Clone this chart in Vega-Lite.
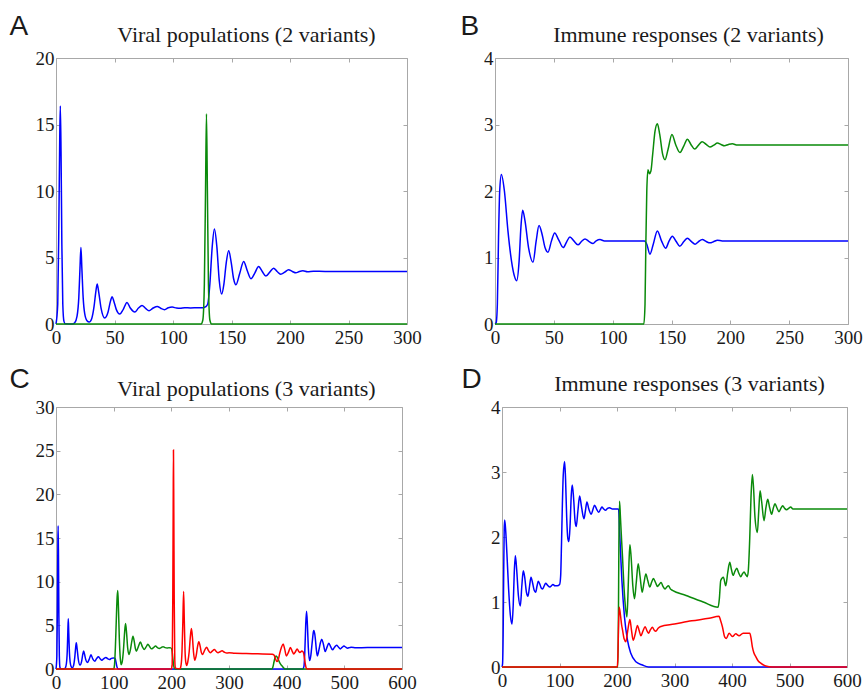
{
"$schema": "https://vega.github.io/schema/vega-lite/v6.json",
"background": "white",
"padding": {"left": 9, "top": 12, "right": 0, "bottom": 0},
"datasets": {
"A_v1": [{"t":0,"v":0},{"t":1.5,"v":1.5},{"t":2.5,"v":8},{"t":3.2,"v":14},{"t":3.7,"v":16.4},{"t":4.3,"v":13},{"t":5,"v":6},{"t":5.8,"v":1.5},{"t":6.8,"v":0.2},{"t":8,"v":0.02},{"t":14,"v":0},{"t":16,"v":0.1},{"t":18,"v":0.6},{"t":19.5,"v":2},{"t":20.5,"v":4.2},{"t":21.3,"v":5.75},{"t":22.1,"v":4.2},{"t":23.2,"v":2},{"t":24.5,"v":0.8},{"t":26.5,"v":0.25},{"t":28.4,"v":0.15},{"t":30.5,"v":0.4},{"t":32.5,"v":1.3},{"t":34,"v":2.4},{"t":35.2,"v":3.0},{"t":36.5,"v":2.4},{"t":38.5,"v":1.2},{"t":41.7,"v":0.45},{"t":44.5,"v":0.9},{"t":46.5,"v":1.7},{"t":48,"v":2.05},{"t":49.5,"v":1.7},{"t":51.5,"v":1.1},{"t":54.5,"v":0.75},{"t":57.5,"v":1.1},{"t":60.7,"v":1.62},{"t":63.5,"v":1.2},{"t":67.3,"v":0.9},{"t":70.5,"v":1.2},{"t":73.5,"v":1.4},{"t":76.5,"v":1.18},{"t":79.5,"v":1.0},{"t":83,"v":1.2},{"t":86.6,"v":1.32},{"t":89.5,"v":1.18},{"t":92.8,"v":1.08},{"t":96,"v":1.22},{"t":99.3,"v":1.27},{"t":103,"v":1.2},{"t":106,"v":1.18},{"t":110,"v":1.23},{"t":115,"v":1.21},{"t":120,"v":1.22},{"t":126,"v":1.23},{"t":128,"v":1.3},{"t":129.7,"v":1.5},{"t":131.5,"v":3.0},{"t":133.5,"v":5.8},{"t":135.4,"v":7.15},{"t":137.5,"v":5.8},{"t":139.5,"v":3.3},{"t":141.6,"v":2.25},{"t":143.5,"v":3.0},{"t":145.5,"v":4.6},{"t":147.6,"v":5.5},{"t":149.8,"v":4.6},{"t":151.8,"v":3.4},{"t":153.8,"v":2.95},{"t":157,"v":3.8},{"t":160.4,"v":4.7},{"t":163.5,"v":4.0},{"t":166.6,"v":3.4},{"t":170,"v":3.85},{"t":173.2,"v":4.33},{"t":176.3,"v":3.95},{"t":179.4,"v":3.6},{"t":182.7,"v":3.9},{"t":186,"v":4.2},{"t":189,"v":3.95},{"t":192,"v":3.75},{"t":195.5,"v":3.9},{"t":198.7,"v":4.08},{"t":202,"v":3.95},{"t":205,"v":3.85},{"t":208,"v":3.95},{"t":211,"v":4.0},{"t":215,"v":3.93},{"t":220,"v":3.97},{"t":230,"v":3.95},{"t":250,"v":3.95},{"t":300,"v":3.95}],
"A_v2": [{"t":0,"v":0},{"t":124,"v":0},{"t":125.5,"v":0.3},{"t":126.8,"v":3},{"t":127.8,"v":10},{"t":128.6,"v":15.8},{"t":129.4,"v":10},{"t":130.3,"v":3},{"t":131.5,"v":0.3},{"t":133,"v":0},{"t":300,"v":0}],
"B_v1": [{"t":0,"v":0},{"t":1,"v":0.02},{"t":2,"v":0.3},{"t":3,"v":1.3},{"t":4,"v":2.0},{"t":5.4,"v":2.25},{"t":8,"v":2.0},{"t":11,"v":1.4},{"t":14,"v":0.95},{"t":16.5,"v":0.72},{"t":18.4,"v":0.65},{"t":20.5,"v":0.95},{"t":22,"v":1.45},{"t":23.5,"v":1.71},{"t":25.5,"v":1.55},{"t":28.5,"v":1.15},{"t":32.3,"v":0.93},{"t":35,"v":1.25},{"t":37.4,"v":1.48},{"t":40,"v":1.35},{"t":42.5,"v":1.15},{"t":45,"v":1.08},{"t":48,"v":1.25},{"t":50.7,"v":1.37},{"t":54,"v":1.27},{"t":58,"v":1.15},{"t":61,"v":1.24},{"t":63.7,"v":1.31},{"t":67,"v":1.25},{"t":70.5,"v":1.19},{"t":73.5,"v":1.24},{"t":76.5,"v":1.28},{"t":80,"v":1.24},{"t":83.3,"v":1.21},{"t":86,"v":1.25},{"t":89.2,"v":1.27},{"t":93,"v":1.25},{"t":100,"v":1.25},{"t":127,"v":1.25},{"t":129,"v":1.2},{"t":131.7,"v":1.05},{"t":134.5,"v":1.2},{"t":138,"v":1.4},{"t":141.5,"v":1.25},{"t":145,"v":1.14},{"t":148,"v":1.25},{"t":150.7,"v":1.32},{"t":154,"v":1.24},{"t":157,"v":1.17},{"t":160.5,"v":1.24},{"t":163.5,"v":1.29},{"t":167,"v":1.24},{"t":170,"v":1.2},{"t":173,"v":1.24},{"t":176.2,"v":1.27},{"t":179.5,"v":1.24},{"t":182.7,"v":1.22},{"t":186,"v":1.24},{"t":189,"v":1.26},{"t":193,"v":1.25},{"t":200,"v":1.25},{"t":300,"v":1.25}],
"B_v2": [{"t":0,"v":0},{"t":126.5,"v":0},{"t":127.5,"v":0.3},{"t":128.2,"v":1.2},{"t":129,"v":2.0},{"t":130,"v":2.32},{"t":131.3,"v":2.26},{"t":132.5,"v":2.3},{"t":134,"v":2.55},{"t":136,"v":2.9},{"t":138,"v":3.01},{"t":140,"v":2.85},{"t":142.5,"v":2.55},{"t":144.5,"v":2.47},{"t":147,"v":2.62},{"t":150.4,"v":2.85},{"t":153.5,"v":2.7},{"t":157.2,"v":2.58},{"t":160.5,"v":2.68},{"t":163.5,"v":2.78},{"t":166.5,"v":2.7},{"t":169.7,"v":2.63},{"t":173,"v":2.69},{"t":176,"v":2.74},{"t":179.5,"v":2.7},{"t":182.7,"v":2.66},{"t":186,"v":2.69},{"t":189,"v":2.72},{"t":192,"v":2.7},{"t":195,"v":2.68},{"t":198.5,"v":2.7},{"t":201.7,"v":2.71},{"t":206,"v":2.69},{"t":215,"v":2.69},{"t":300,"v":2.69}],
"C_v1": [{"t":0,"v":0},{"t":1.5,"v":1.5},{"t":2.5,"v":8},{"t":3.2,"v":14},{"t":3.7,"v":16.4},{"t":4.3,"v":13},{"t":5,"v":6},{"t":5.8,"v":1.5},{"t":6.8,"v":0.2},{"t":8,"v":0.02},{"t":14,"v":0},{"t":16,"v":0.1},{"t":18,"v":0.6},{"t":19.5,"v":2},{"t":20.5,"v":4.2},{"t":21.3,"v":5.75},{"t":22.1,"v":4.2},{"t":23.2,"v":2},{"t":24.5,"v":0.8},{"t":26.5,"v":0.25},{"t":28.4,"v":0.15},{"t":30.5,"v":0.4},{"t":32.5,"v":1.3},{"t":34,"v":2.4},{"t":35.2,"v":3.0},{"t":36.5,"v":2.4},{"t":38.5,"v":1.2},{"t":41.7,"v":0.45},{"t":44.5,"v":0.9},{"t":46.5,"v":1.7},{"t":48,"v":2.05},{"t":49.5,"v":1.7},{"t":51.5,"v":1.1},{"t":54.5,"v":0.75},{"t":57.5,"v":1.1},{"t":60.7,"v":1.62},{"t":63.5,"v":1.2},{"t":67.3,"v":0.9},{"t":70.5,"v":1.2},{"t":73.5,"v":1.4},{"t":76.5,"v":1.18},{"t":79.5,"v":1.0},{"t":83,"v":1.2},{"t":86.6,"v":1.32},{"t":89.5,"v":1.18},{"t":92.8,"v":1.08},{"t":96,"v":1.22},{"t":99.3,"v":1.27},{"t":101,"v":1.25},{"t":102.5,"v":1.2},{"t":104,"v":0.8},{"t":105.5,"v":0.3},{"t":107,"v":0.05},{"t":109,"v":0},{"t":428,"v":0},{"t":430,"v":0.3},{"t":431.5,"v":2},{"t":433,"v":5},{"t":434.5,"v":6.6},{"t":436,"v":5},{"t":437.5,"v":2.5},{"t":439.8,"v":0.96},{"t":442,"v":1.6},{"t":444.5,"v":3.2},{"t":446.5,"v":4.3},{"t":447.4,"v":4.4},{"t":449.5,"v":3.6},{"t":451.5,"v":2.2},{"t":453.2,"v":1.5},{"t":456,"v":2.2},{"t":458.5,"v":3.0},{"t":460.8,"v":3.4},{"t":463.5,"v":2.9},{"t":466.7,"v":2.0},{"t":470,"v":2.5},{"t":473,"v":2.95},{"t":476,"v":2.6},{"t":479.5,"v":2.2},{"t":483,"v":2.5},{"t":486.5,"v":2.73},{"t":490,"v":2.5},{"t":493,"v":2.3},{"t":496,"v":2.47},{"t":499.4,"v":2.62},{"t":502.5,"v":2.5},{"t":505.8,"v":2.39},{"t":509,"v":2.45},{"t":512,"v":2.5},{"t":520,"v":2.44},{"t":540,"v":2.45},{"t":600,"v":2.45}],
"C_v2": [{"t":0,"v":0},{"t":100,"v":0},{"t":101.5,"v":0.5},{"t":103,"v":2.5},{"t":104.5,"v":5.5},{"t":106,"v":8.2},{"t":107.1,"v":8.98},{"t":108.3,"v":7},{"t":109.8,"v":3.5},{"t":111.5,"v":1.2},{"t":113,"v":0.5},{"t":115,"v":0.9},{"t":117,"v":2.2},{"t":119,"v":4.2},{"t":120.6,"v":5.2},{"t":122.3,"v":4.2},{"t":124.3,"v":2.4},{"t":126.5,"v":1.66},{"t":129,"v":2.2},{"t":131.5,"v":3.2},{"t":133.5,"v":3.74},{"t":135.8,"v":3.1},{"t":137.8,"v":2.3},{"t":139.3,"v":2.04},{"t":142.5,"v":2.5},{"t":146.4,"v":3.08},{"t":149.5,"v":2.6},{"t":152.8,"v":2.24},{"t":156,"v":2.5},{"t":159.3,"v":2.82},{"t":162.5,"v":2.55},{"t":165.7,"v":2.31},{"t":169,"v":2.45},{"t":172.7,"v":2.62},{"t":176,"v":2.45},{"t":179.2,"v":2.35},{"t":182.5,"v":2.45},{"t":185.6,"v":2.55},{"t":189,"v":2.45},{"t":192.5,"v":2.4},{"t":196,"v":2.44},{"t":199,"v":2.42},{"t":201,"v":2.2},{"t":202.5,"v":1.3},{"t":204,"v":0.4},{"t":205.5,"v":0.05},{"t":207,"v":0},{"t":374,"v":0},{"t":376,"v":0.2},{"t":378,"v":0.8},{"t":380,"v":1.35},{"t":381.8,"v":1.5},{"t":384,"v":1.3},{"t":387,"v":0.85},{"t":390,"v":0.5},{"t":393,"v":0.27},{"t":396,"v":0.05},{"t":398,"v":0},{"t":600,"v":0}],
"C_v3": [{"t":0,"v":0},{"t":200,"v":0},{"t":201.5,"v":0.5},{"t":202.5,"v":8},{"t":203.2,"v":18},{"t":203.7,"v":25.07},{"t":204.3,"v":18},{"t":205,"v":8},{"t":206,"v":1},{"t":207,"v":0.1},{"t":215,"v":0.02},{"t":217,"v":0.5},{"t":218.5,"v":2},{"t":220,"v":5.5},{"t":221.3,"v":8.87},{"t":222.5,"v":5.5},{"t":223.8,"v":2},{"t":225,"v":0.8},{"t":226.6,"v":0.4},{"t":228.5,"v":0.8},{"t":231,"v":2},{"t":233,"v":3.7},{"t":234.8,"v":4.63},{"t":236.5,"v":3.7},{"t":238.5,"v":1.9},{"t":240.6,"v":1.0},{"t":243,"v":1.5},{"t":245.5,"v":2.6},{"t":247.7,"v":3.12},{"t":250,"v":2.6},{"t":252,"v":1.9},{"t":254,"v":1.66},{"t":257.5,"v":2.1},{"t":261,"v":2.5},{"t":264.5,"v":2.1},{"t":267.6,"v":1.85},{"t":271,"v":2.05},{"t":274.6,"v":2.24},{"t":278,"v":2.0},{"t":281,"v":1.85},{"t":284.5,"v":1.97},{"t":288,"v":2.08},{"t":292,"v":1.92},{"t":296,"v":1.83},{"t":300,"v":1.85},{"t":310,"v":1.8},{"t":330,"v":1.77},{"t":350,"v":1.74},{"t":375,"v":1.7},{"t":378,"v":1.6},{"t":380.5,"v":1.2},{"t":383,"v":0.85},{"t":385.5,"v":1.1},{"t":388,"v":1.8},{"t":391,"v":2.5},{"t":394,"v":2.85},{"t":396.5,"v":2.3},{"t":399.5,"v":1.5},{"t":403,"v":1.9},{"t":406.5,"v":2.46},{"t":409.5,"v":2.05},{"t":412.3,"v":1.73},{"t":415,"v":1.95},{"t":418.2,"v":2.3},{"t":421,"v":2.0},{"t":423,"v":1.88},{"t":426.4,"v":2.05},{"t":429,"v":1.9},{"t":431,"v":1.2},{"t":432.5,"v":0.5},{"t":434,"v":0.1},{"t":436,"v":0},{"t":600,"v":0}],
"D_v1": [{"t":0,"v":0},{"t":1,"v":0.05},{"t":2,"v":0.5},{"t":3,"v":1.5},{"t":3.8,"v":2.1},{"t":4.6,"v":2.26},{"t":6,"v":2.15},{"t":8.5,"v":1.75},{"t":11.5,"v":1.2},{"t":14.5,"v":0.8},{"t":17.4,"v":0.66},{"t":19.5,"v":0.95},{"t":21.3,"v":1.45},{"t":23.2,"v":1.71},{"t":25.5,"v":1.5},{"t":28.5,"v":1.1},{"t":31.9,"v":0.94},{"t":34.5,"v":1.25},{"t":37,"v":1.48},{"t":39.5,"v":1.38},{"t":42.5,"v":1.15},{"t":45.2,"v":1.09},{"t":48,"v":1.25},{"t":50.4,"v":1.38},{"t":53,"v":1.3},{"t":56,"v":1.18},{"t":58.5,"v":1.15},{"t":61,"v":1.25},{"t":63.1,"v":1.32},{"t":66,"v":1.27},{"t":68.5,"v":1.21},{"t":70.7,"v":1.2},{"t":73.5,"v":1.25},{"t":75.9,"v":1.29},{"t":79,"v":1.26},{"t":83.4,"v":1.23},{"t":86,"v":1.25},{"t":88.6,"v":1.27},{"t":92,"v":1.25},{"t":96,"v":1.25},{"t":100.2,"v":1.27},{"t":102,"v":1.4},{"t":103.5,"v":1.9},{"t":105,"v":2.5},{"t":106.5,"v":2.95},{"t":108.9,"v":3.16},{"t":110.5,"v":2.9},{"t":112.5,"v":2.3},{"t":114.5,"v":1.98},{"t":116.4,"v":1.93},{"t":118.5,"v":2.2},{"t":120.5,"v":2.65},{"t":122.2,"v":2.8},{"t":124.5,"v":2.6},{"t":127,"v":2.25},{"t":129.1,"v":2.16},{"t":132,"v":2.4},{"t":135,"v":2.63},{"t":138,"v":2.48},{"t":142.5,"v":2.28},{"t":145,"v":2.4},{"t":147.7,"v":2.54},{"t":151,"v":2.43},{"t":155.2,"v":2.35},{"t":158,"v":2.42},{"t":161,"v":2.49},{"t":164.5,"v":2.43},{"t":168,"v":2.38},{"t":171,"v":2.42},{"t":173.7,"v":2.46},{"t":177,"v":2.43},{"t":180,"v":2.41},{"t":183.5,"v":2.44},{"t":187,"v":2.45},{"t":192,"v":2.43},{"t":200,"v":2.43},{"t":202.6,"v":2.43},{"t":205,"v":1.99},{"t":208.5,"v":1.33},{"t":213,"v":0.77},{"t":218.3,"v":0.41},{"t":224,"v":0.21},{"t":232.8,"v":0.08},{"t":244.3,"v":0.03},{"t":255,"v":0},{"t":600,"v":0}],
"D_v2": [{"t":0,"v":0},{"t":201.5,"v":0},{"t":202.5,"v":0.8},{"t":203.3,"v":1.9},{"t":204.4,"v":2.55},{"t":206,"v":2.3},{"t":208,"v":1.95},{"t":209.6,"v":1.69},{"t":212,"v":1.25},{"t":214.2,"v":0.97},{"t":217.2,"v":0.77},{"t":219,"v":1.1},{"t":220.8,"v":1.6},{"t":222.4,"v":1.88},{"t":224.5,"v":1.7},{"t":227.5,"v":1.25},{"t":230.4,"v":1.05},{"t":233.5,"v":1.3},{"t":236.8,"v":1.59},{"t":240,"v":1.4},{"t":243.8,"v":1.15},{"t":247,"v":1.3},{"t":250.2,"v":1.43},{"t":253.5,"v":1.33},{"t":257.1,"v":1.23},{"t":260,"v":1.3},{"t":263.4,"v":1.36},{"t":267,"v":1.3},{"t":270.4,"v":1.24},{"t":273.5,"v":1.27},{"t":276.8,"v":1.3},{"t":280,"v":1.24},{"t":283.7,"v":1.2},{"t":286.5,"v":1.23},{"t":289.5,"v":1.25},{"t":293,"v":1.2},{"t":296.4,"v":1.18},{"t":320,"v":1.1},{"t":350,"v":1.0},{"t":375.8,"v":0.92},{"t":378,"v":1.05},{"t":380.4,"v":1.33},{"t":385,"v":1.38},{"t":389.2,"v":1.25},{"t":392.5,"v":1.45},{"t":396.1,"v":1.61},{"t":399,"v":1.5},{"t":401.9,"v":1.41},{"t":405,"v":1.47},{"t":408.3,"v":1.52},{"t":411.5,"v":1.45},{"t":415.2,"v":1.39},{"t":418,"v":1.43},{"t":421,"v":1.46},{"t":424,"v":1.42},{"t":426.7,"v":1.39},{"t":428.5,"v":1.5},{"t":430.9,"v":1.99},{"t":433,"v":2.6},{"t":435.4,"v":2.96},{"t":437.5,"v":2.75},{"t":440,"v":2.3},{"t":444.1,"v":2.07},{"t":446.5,"v":2.4},{"t":448.8,"v":2.71},{"t":451.5,"v":2.55},{"t":455.7,"v":2.25},{"t":459,"v":2.45},{"t":462.1,"v":2.58},{"t":465.5,"v":2.45},{"t":469,"v":2.35},{"t":472,"v":2.45},{"t":474.8,"v":2.51},{"t":478,"v":2.45},{"t":481.8,"v":2.39},{"t":485,"v":2.44},{"t":488.2,"v":2.48},{"t":491.5,"v":2.44},{"t":495.1,"v":2.42},{"t":498.5,"v":2.44},{"t":502,"v":2.46},{"t":506,"v":2.43},{"t":520,"v":2.43},{"t":600,"v":2.43}],
"D_v3": [{"t":0,"v":0},{"t":200.5,"v":0},{"t":201.5,"v":0.15},{"t":202.5,"v":0.55},{"t":203.8,"v":0.92},{"t":206,"v":0.8},{"t":208,"v":0.65},{"t":209.6,"v":0.57},{"t":212.5,"v":0.43},{"t":215.4,"v":0.39},{"t":218.5,"v":0.55},{"t":222.4,"v":0.73},{"t":225,"v":0.58},{"t":228.1,"v":0.41},{"t":231.5,"v":0.5},{"t":235.6,"v":0.64},{"t":238.5,"v":0.56},{"t":241.5,"v":0.48},{"t":245,"v":0.55},{"t":249,"v":0.62},{"t":252,"v":0.56},{"t":254.7,"v":0.52},{"t":258,"v":0.57},{"t":261.6,"v":0.61},{"t":264.5,"v":0.57},{"t":267.5,"v":0.55},{"t":271,"v":0.59},{"t":275,"v":0.62},{"t":300,"v":0.66},{"t":330,"v":0.71},{"t":360,"v":0.75},{"t":377.5,"v":0.78},{"t":380,"v":0.72},{"t":383.3,"v":0.62},{"t":387.4,"v":0.46},{"t":390.2,"v":0.44},{"t":395,"v":0.52},{"t":400.7,"v":0.47},{"t":406.5,"v":0.51},{"t":412.3,"v":0.48},{"t":419.3,"v":0.52},{"t":425,"v":0.52},{"t":430.9,"v":0.52},{"t":433,"v":0.45},{"t":435.4,"v":0.31},{"t":438,"v":0.22},{"t":441.3,"v":0.16},{"t":445,"v":0.1},{"t":450,"v":0.06},{"t":458.7,"v":0.015},{"t":470,"v":0},{"t":600,"v":0}]
},
"vconcat": [
{"hconcat": [
{"width": 351, "height": 266,
 "layer": [
  {"data": {"name": "A_v1"}, "mark": {"type": "line", "color": "#0000ff", "strokeWidth": 1.5, "interpolate": "monotone"},
   "encoding": {
    "x": {"field": "t", "type": "quantitative", "scale": {"domain": [0, 300], "nice": false}, "axis": {"orient": "bottom", "values": [0,50,100,150,200,250,300], "title": null, "labelPadding": 8}},
    "y": {"field": "v", "type": "quantitative", "scale": {"domain": [0, 20], "nice": false}, "axis": {"orient": "left", "values": [0,5,10,15,20], "title": "A", "titleX": -47, "titleY": -24, "titleAngle": 0, "titleAlign": "left", "titleBaseline": "alphabetic", "titleFont": "Liberation Sans", "titleFontSize": 28}}}},
  {"data": {"name": "A_v2"}, "mark": {"type": "line", "color": "#0a8a0a", "strokeWidth": 1.5, "interpolate": "monotone"},
   "encoding": {
    "x": {"field": "t", "type": "quantitative", "scale": {"domain": [0, 300], "nice": false}, "axis": {"orient": "top", "values": [0,50,100,150,200,250,300], "labels": false, "title": "Viral populations (2 variants)", "titleX": 190, "titleY": -16.5, "titleAlign": "center", "titleBaseline": "alphabetic"}},
    "y": {"field": "v", "type": "quantitative", "scale": {"domain": [0, 20], "nice": false}, "axis": {"orient": "right", "values": [0,5,10,15,20], "labels": false, "title": null}}}}
 ],
 "resolve": {"axis": {"x": "independent", "y": "independent"}}},
{"width": 353, "height": 266,
 "layer": [
  {"data": {"name": "B_v1"}, "mark": {"type": "line", "color": "#0000ff", "strokeWidth": 1.5, "interpolate": "monotone"},
   "encoding": {
    "x": {"field": "t", "type": "quantitative", "scale": {"domain": [0, 300], "nice": false}, "axis": {"orient": "bottom", "values": [0,50,100,150,200,250,300], "title": null, "labelPadding": 8}},
    "y": {"field": "v", "type": "quantitative", "scale": {"domain": [0, 4], "nice": false}, "axis": {"orient": "left", "values": [0,1,2,3,4], "title": "B", "titleX": -35, "titleY": -24, "titleAngle": 0, "titleAlign": "left", "titleBaseline": "alphabetic", "titleFont": "Liberation Sans", "titleFontSize": 28}}}},
  {"data": {"name": "B_v2"}, "mark": {"type": "line", "color": "#0a8a0a", "strokeWidth": 1.5, "interpolate": "monotone"},
   "encoding": {
    "x": {"field": "t", "type": "quantitative", "scale": {"domain": [0, 300], "nice": false}, "axis": {"orient": "top", "values": [0,50,100,150,200,250,300], "labels": false, "title": "Immune responses (2 variants)", "titleX": 193, "titleY": -17, "titleAlign": "center", "titleBaseline": "alphabetic"}},
    "y": {"field": "v", "type": "quantitative", "scale": {"domain": [0, 4], "nice": false}, "axis": {"orient": "right", "values": [0,1,2,3,4], "labels": false, "title": null}}}}
 ],
 "resolve": {"axis": {"x": "independent", "y": "independent"}}}
], "spacing": 88, "bounds": "flush"},
{"hconcat": [
{"width": 346, "height": 262,
 "layer": [
  {"data": {"name": "C_v1"}, "mark": {"type": "line", "color": "#0000ff", "strokeWidth": 1.5, "interpolate": "monotone"},
   "encoding": {
    "x": {"field": "t", "type": "quantitative", "scale": {"domain": [0, 600], "nice": false}, "axis": {"orient": "bottom", "values": [0,100,200,300,400,500,600], "title": null, "labelPadding": 8}},
    "y": {"field": "v", "type": "quantitative", "scale": {"domain": [0, 30], "nice": false}, "axis": {"orient": "left", "values": [0,5,10,15,20,25,30], "title": "C", "titleX": -47, "titleY": -20, "titleAngle": 0, "titleAlign": "left", "titleBaseline": "alphabetic", "titleFont": "Liberation Sans", "titleFontSize": 28}}}},
  {"data": {"name": "C_v2"}, "mark": {"type": "line", "color": "#0a8a0a", "strokeWidth": 1.5, "interpolate": "monotone"},
   "encoding": {
    "x": {"field": "t", "type": "quantitative", "scale": {"domain": [0, 600], "nice": false}, "axis": {"orient": "top", "values": [0,100,200,300,400,500,600], "labels": false, "title": "Viral populations (3 variants)", "titleX": 190, "titleY": -12, "titleAlign": "center", "titleBaseline": "alphabetic"}},
    "y": {"field": "v", "type": "quantitative", "scale": {"domain": [0, 30], "nice": false}, "axis": {"orient": "right", "values": [0,5,10,15,20,25,30], "labels": false, "title": null}}}},
  {"data": {"name": "C_v3"}, "mark": {"type": "line", "color": "#ff0000", "strokeWidth": 1.5, "interpolate": "monotone"},
   "encoding": {
    "x": {"field": "t", "type": "quantitative", "axis": null},
    "y": {"field": "v", "type": "quantitative", "axis": null}}}
 ],
 "resolve": {"axis": {"x": "independent", "y": "independent"}}},
{"width": 345, "height": 260,
 "layer": [
  {"data": {"name": "D_v1"}, "mark": {"type": "line", "color": "#0000ff", "strokeWidth": 1.5, "interpolate": "monotone"},
   "encoding": {
    "x": {"field": "t", "type": "quantitative", "scale": {"domain": [0, 600], "nice": false}, "axis": {"orient": "bottom", "values": [0,100,200,300,400,500,600], "title": null, "labelPadding": 8}},
    "y": {"field": "v", "type": "quantitative", "scale": {"domain": [0, 4], "nice": false}, "axis": {"orient": "left", "values": [0,1,2,3,4], "title": "D", "titleX": -41, "titleY": -20, "titleAngle": 0, "titleAlign": "left", "titleBaseline": "alphabetic", "titleFont": "Liberation Sans", "titleFontSize": 28}}}},
  {"data": {"name": "D_v2"}, "mark": {"type": "line", "color": "#0a8a0a", "strokeWidth": 1.5, "interpolate": "monotone"},
   "encoding": {
    "x": {"field": "t", "type": "quantitative", "scale": {"domain": [0, 600], "nice": false}, "axis": {"orient": "top", "values": [0,100,200,300,400,500,600], "labels": false, "title": "Immune responses (3 variants)", "titleX": 187, "titleY": -17, "titleAlign": "center", "titleBaseline": "alphabetic"}},
    "y": {"field": "v", "type": "quantitative", "scale": {"domain": [0, 4], "nice": false}, "axis": {"orient": "right", "values": [0,1,2,3,4], "labels": false, "title": null}}}},
  {"data": {"name": "D_v3"}, "mark": {"type": "line", "color": "#ff0000", "strokeWidth": 1.5, "interpolate": "monotone"},
   "encoding": {
    "x": {"field": "t", "type": "quantitative", "axis": null},
    "y": {"field": "v", "type": "quantitative", "axis": null}}}
 ],
 "resolve": {"axis": {"x": "independent", "y": "independent"}}}
], "spacing": 100, "bounds": "flush"}
],
"spacing": 18,
"config": {
 "view": {"stroke": null},
 "axis": {"grid": false, "domainColor": "#a8a8a8", "tickColor": "#a8a8a8", "tickSize": -4, "labelFont": "Liberation Serif", "labelFontSize": 19, "labelColor": "#1a1a1a", "labelPadding": 6, "labelFlush": false, "labelOverlap": false, "titleFont": "Liberation Serif", "titleFontSize": 22, "titleFontWeight": "normal", "titleColor": "#1a1a1a"}
}
}
